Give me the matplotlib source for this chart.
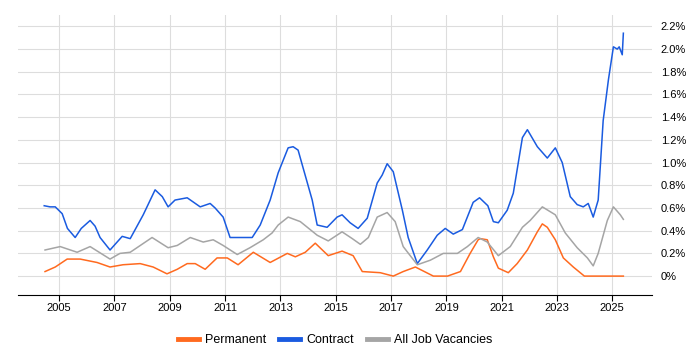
import numpy as np
import matplotlib.pyplot as plt

plt.rcParams['font.family'] = ['Liberation Sans', 'DejaVu Sans']

# contract series (year, % of vacancies)
contract_years = [2004.46, 2004.67, 2004.86, 2005.11, 2005.3, 2005.58, 2005.8, 2006.12, 2006.3,
                  2006.48, 2006.84, 2007.28, 2007.57, 2008.04, 2008.47, 2008.73, 2008.94, 2009.19,
                  2009.63, 2010.1, 2010.46, 2010.64, 2010.93, 2011.18, 2011.44, 2011.98, 2012.27,
                  2012.63, 2012.92, 2013.28, 2013.46, 2013.64, 2013.79, 2014.15, 2014.33, 2014.69,
                  2015.05, 2015.23, 2015.52, 2015.81, 2016.14, 2016.5, 2016.68, 2016.86, 2017.08,
                  2017.41, 2017.62, 2017.95, 2018.31, 2018.67, 2018.96, 2019.25, 2019.58, 2019.97,
                  2020.2, 2020.5, 2020.7, 2020.88, 2021.2, 2021.42, 2021.75, 2021.93, 2022.29,
                  2022.65, 2022.94, 2023.19, 2023.48, 2023.73, 2023.95, 2024.13, 2024.31, 2024.49,
                  2024.67, 2024.86, 2025.04, 2025.18, 2025.25, 2025.36, 2025.4]
contract_vals = [0.62, 0.61, 0.61, 0.55, 0.42, 0.34, 0.42, 0.49, 0.44,
                 0.34, 0.23, 0.35, 0.33, 0.54, 0.76, 0.70, 0.61, 0.67,
                 0.69, 0.61, 0.64, 0.60, 0.52, 0.34, 0.34, 0.34, 0.45,
                 0.67, 0.91, 1.13, 1.14, 1.11, 0.98, 0.67, 0.45, 0.43,
                 0.52, 0.54, 0.47, 0.42, 0.51, 0.82, 0.89, 0.99, 0.92,
                 0.58, 0.34, 0.11, 0.23, 0.36, 0.42, 0.37, 0.41, 0.65,
                 0.69, 0.62, 0.48, 0.47, 0.58, 0.73, 1.22, 1.29, 1.14,
                 1.04, 1.13, 1.00, 0.70, 0.63, 0.61, 0.64, 0.52, 0.67,
                 1.37, 1.73, 2.02, 2.00, 2.02, 1.95, 2.14]

# all job vacancies
all_years = [2004.49, 2005.04, 2005.65, 2006.12, 2006.84, 2007.2, 2007.57, 2008.36, 2008.94,
             2009.27, 2009.74, 2010.21, 2010.57, 2010.93, 2011.44, 2011.9, 2012.38, 2012.7,
             2012.92, 2013.28, 2013.72, 2014.33, 2014.73, 2015.23, 2015.6, 2015.89, 2016.18,
             2016.5, 2016.86, 2017.15, 2017.44, 2017.95, 2018.42, 2018.89, 2019.4, 2019.76,
             2020.15, 2020.48, 2020.88, 2021.31, 2021.75, 2022.03, 2022.47, 2022.94, 2023.3,
             2023.73, 2024.1, 2024.31, 2024.49, 2024.82, 2025.04, 2025.29, 2025.4]
all_vals = [0.23, 0.26, 0.21, 0.26, 0.15, 0.20, 0.21, 0.34, 0.25,
            0.27, 0.34, 0.30, 0.32, 0.27, 0.19, 0.25, 0.32, 0.38,
            0.45, 0.52, 0.48, 0.36, 0.31, 0.39, 0.33, 0.28, 0.34,
            0.52, 0.56, 0.48, 0.26, 0.10, 0.14, 0.20, 0.20, 0.26,
            0.34, 0.30, 0.18, 0.26, 0.43, 0.49, 0.61, 0.54, 0.38,
            0.25, 0.16, 0.09, 0.20, 0.49, 0.61, 0.54, 0.50]

# permanent
perm_years = [2004.49, 2004.86, 2005.29, 2005.76, 2006.37, 2006.84, 2007.31, 2007.93, 2008.4,
              2008.9, 2009.27, 2009.63, 2009.92, 2010.28, 2010.71, 2011.08, 2011.47, 2012.02,
              2012.63, 2013.25, 2013.54, 2013.9, 2014.26, 2014.73, 2015.23, 2015.63, 2015.96,
              2016.61, 2017.08, 2017.44, 2017.88, 2018.53, 2019.04, 2019.51, 2019.86, 2020.15,
              2020.23, 2020.48, 2020.7, 2020.88, 2021.24, 2021.56, 2021.93, 2022.29, 2022.47,
              2022.65, 2022.94, 2023.23, 2023.59, 2023.99, 2025.4]
perm_vals = [0.04, 0.08, 0.15, 0.15, 0.12, 0.08, 0.10, 0.11, 0.08,
             0.02, 0.06, 0.11, 0.11, 0.06, 0.16, 0.16, 0.10, 0.21,
             0.12, 0.20, 0.17, 0.21, 0.29, 0.18, 0.22, 0.18, 0.04,
             0.03, 0.00, 0.04, 0.08, 0.00, 0.00, 0.04, 0.20, 0.32,
             0.33, 0.32, 0.17, 0.07, 0.03, 0.11, 0.23, 0.39, 0.46,
             0.43, 0.32, 0.16, 0.08, 0.00, 0.00]

year_ticks = [2005, 2007, 2009, 2011, 2013, 2015, 2017, 2019, 2021, 2023, 2025]
pct_ticks = [0, 0.2, 0.4, 0.6, 0.8, 1.0, 1.2, 1.4, 1.6, 1.8, 2.0, 2.2]

fig = plt.figure(figsize=(7, 3.5), dpi=100)
ax = fig.add_axes([0.026, 0.157, 0.906, 0.8])

ax.plot(perm_years, perm_vals, color='#FF6A1F', lw=1.1, label='Permanent')
ax.plot(contract_years, contract_vals, color='#1A5BE0', lw=1.1, label='Contract')
ax.plot(all_years, all_vals, color='#A5A5A5', lw=1.1, label='All Job Vacancies')

ax.set_xlim(2003.52, 2026.45)
ax.set_ylim(-0.167, 2.3)
ax.set_xticks(year_ticks)
ax.set_xticklabels([str(y) for y in year_ticks], fontsize=8)
ax.set_yticks(pct_ticks)
ax.set_yticklabels(['0%'] + ['%.1f%%' % v for v in pct_ticks[1:]], fontsize=8)
ax.yaxis.tick_right()
ax.tick_params(axis='y', length=0, pad=6)
ax.tick_params(axis='x', length=4, color='black', pad=2)
ax.grid(True, color='#DDDDDD', lw=0.8)
ax.set_axisbelow(True)
for s in ['top', 'left', 'right']:
    ax.spines[s].set_visible(False)
ax.spines['bottom'].set_color('black')

leg = ax.legend(loc='upper center', bbox_to_anchor=(0.5, -0.1), ncol=3, frameon=False,
                fontsize=9, handlelength=1.7, columnspacing=1.0, handletextpad=0.5)
for line in leg.get_lines():
    line.set_linewidth(3.5)

fig.savefig('out.png')
